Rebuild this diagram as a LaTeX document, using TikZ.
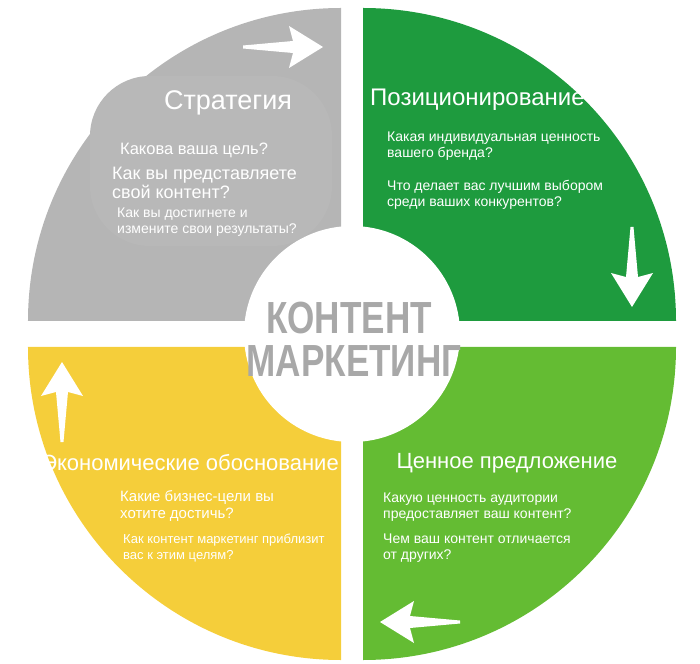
\documentclass[tikz,border=0pt]{standalone}
\usepackage{fontspec}
\setmainfont{Liberation Sans}
\usepackage{xcolor}
\usepackage{tikz}

\definecolor{strategygray}{HTML}{B5B5B5}
\definecolor{strategylight}{HTML}{B8B8B8}
\definecolor{positiongreen}{HTML}{1E9B3E}
\definecolor{valuegreen}{HTML}{64BC33}
\definecolor{businessyellow}{HTML}{F5CE3A}
\definecolor{hubgray}{HTML}{A8A8A8}

\tikzset{
    pics/flowarrow/.style={code={
        \fill[white] (0,-1.5) -- (50,-6) -- (46,-21) -- (80,0) -- (46,21) -- (50,6) -- (0,1.5) -- cycle;
    }}
}

\begin{document}
\begin{tikzpicture}[
    x=1pt, y=1pt,
    quarter/.style={draw=none},
    title/.style={text=white, inner sep=0pt, font=\fontsize{23}{27}\selectfont},
    ask/.style={text=white, anchor=west, align=left, inner sep=0pt, font=\fontsize{14}{16}\selectfont},
    hubtext/.style={text=hubgray, inner sep=0pt, anchor=base, xscale=0.78, font=\fontsize{45}{42}\selectfont\bfseries}
]
\useasboundingbox (-352,-329) rectangle (348,334);

% Quarters
\fill[quarter, strategygray] (-11,13) -- ++(-313,0) arc[start angle=180, end angle=90, radius=313pt] -- cycle;
\fill[quarter, positiongreen] (11,13) -- ++(0,313) arc[start angle=90, end angle=0, radius=313pt] -- cycle;
\fill[quarter, valuegreen] (11,-13) -- ++(313,0) arc[start angle=0, end angle=-90, radius=313pt] -- cycle;
\fill[quarter, businessyellow] (-11,-13) -- ++(0,-313) arc[start angle=270, end angle=180, radius=313pt] -- cycle;
\fill[strategylight, rounded corners=60pt] (-262,88) rectangle (-20,258);

% Hub
\node[circle, fill=white, minimum size=216pt, inner sep=0pt] (hub) at (0,0) {};
\node[hubtext] (hubtop) at (-3,0) {КОНТЕНТ};
\node[hubtext] (hubbottom) at (2,-42) {МАРКЕТИНГ};

% Arrows
\pic at (-109,287) {flowarrow};
\pic[rotate=-90] at (280,107) {flowarrow};
\pic[rotate=180] at (108,-288) {flowarrow};
\pic[rotate=90] at (-290,-108) {flowarrow};

% Strategy
\node[title, font=\fontsize{27}{30}\selectfont] (strategy) at (-124,231) {Стратегия};
\node[ask, font=\fontsize{16.5}{18}\selectfont] (strategyq1) at (-232,184) {Какова ваша цель?};
\node[ask, font=\fontsize{18}{18.5}\selectfont] (strategyq2) at (-240,151) {Как вы представляете\\свой контент?};
\node[ask, font=\fontsize{14}{16}\selectfont] (strategyq3) at (-235,112) {Как вы достигнете и\\измените свои результаты?};

% Positioning
\node[title, anchor=west, font=\fontsize{24}{27}\selectfont] (position) at (18,234) {Позиционирование};
\node[ask] (positionq1) at (35,188) {Какая индивидуальная ценность\\вашего бренда?};
\node[ask] (positionq2) at (35,139.5) {Что делает вас лучшим выбором\\среди ваших конкурентов?};

% Value proposition
\node[title, font=\fontsize{22}{26}\selectfont] (value) at (155,-129) {Ценное предложение};
\node[ask] (valueq1) at (31,-173) {Какую ценность аудитории\\предоставляет ваш контент?};
\node[ask] (valueq2) at (31,-214) {Чем ваш контент отличается\\от других?};

% Business case
\node[title, font=\fontsize{22}{26}\selectfont] (business) at (-162,-129) {Экономические обоснование};
\node[ask, font=\fontsize{15}{17}\selectfont] (businessq1) at (-232,-172) {Какие бизнес-цели вы\\хотите достичь?};
\node[ask, font=\fontsize{13}{16}\selectfont] (businessq2) at (-229,-214) {Как контент маркетинг приблизит\\вас к этим целям?};

\end{tikzpicture}
\end{document}
